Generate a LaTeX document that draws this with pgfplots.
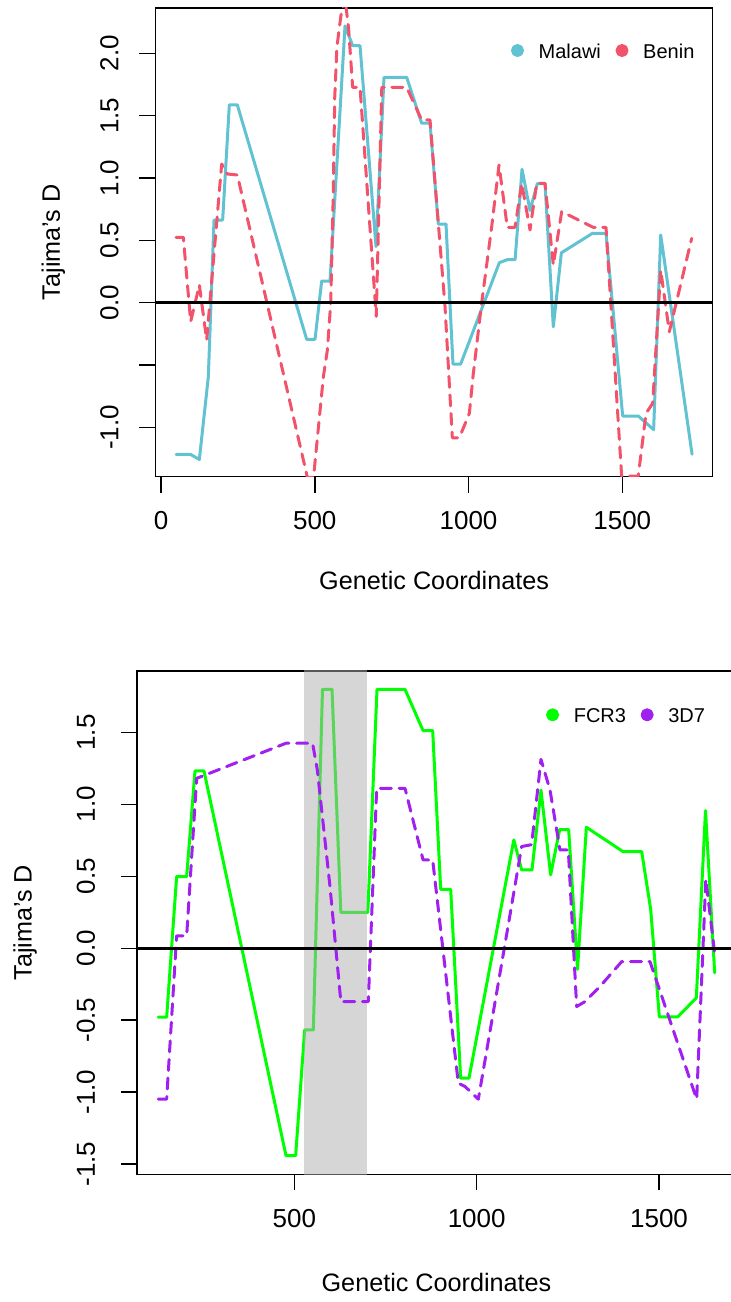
\documentclass[border=0pt]{standalone}
\usepackage{fontspec}
\setmainfont{Liberation Sans}
\usepackage{pgfplots}
\pgfplotsset{compat=1.18}
\definecolor{malawi}{RGB}{97,194,210}
\definecolor{benin}{RGB}{242,83,107}
\definecolor{fcr}{RGB}{0,255,0}
\definecolor{tdseven}{RGB}{160,32,240}
\definecolor{shade}{RGB}{174,174,174}
\pgfplotsset{
  rstyle/.style={
    scale only axis,
    axis line style={line width=0.75pt},
    every tick/.style={black, line width=0.75pt},
    major tick length=8pt,
    tick align=outside,
    xtick pos=left, ytick pos=left,
    clip=true,
    /pgf/number format/assume math mode=true,
    tick label style={font=\fontsize{13}{15}\selectfont},
    label style={font=\fontsize{12.6}{15}\selectfont},
    legend columns=2,
    legend style={draw=none, fill=none, inner sep=0pt, outer sep=0pt,
      font=\fontsize{10}{12}\selectfont, nodes={inner sep=0pt},
      /tikz/every odd column/.append style={column sep=7.35pt},
      /tikz/every even column/.append style={column sep=7.3pt}},
  },
  rline/.style={line width=1.5pt, line join=round, line cap=round},
  rdash/.style={line width=1.5pt, line join=round, line cap=round, dash pattern=on 5.5pt off 3.8pt},
}
\begin{document}
\begin{tikzpicture}
\begin{axis}[rstyle,
  at={(77.75pt,412.65pt)}, anchor=south west,
  width=278.6pt, height=234.35pt,
  xmin=-17.9, xmax=1794.1, ymin=-1.395, ymax=2.363,
  xtick={0,500,1000,1500}, xticklabels={0,500,1000,1500},
  ytick={-1,-0.5,0,0.5,1,1.5,2}, yticklabels={-1.0,{},0.0,0.5,1.0,1.5,2.0},
  xticklabel style={anchor=center, yshift=-14pt},
  yticklabel style={anchor=center, xshift=-15pt, rotate=90},
  xlabel={Genetic Coordinates}, ylabel={Tajima's D},
  xlabel style={at={(axis description cs:0.5,-0.2204)}, anchor=center},
  ylabel style={at={(axis description cs:-0.1834,0.5)}, anchor=center},
  legend style={at={(axis description cs:0.638,0.905)}, anchor=west},
  legend image code/.code={\fill[#1, solid] (2.5pt,0.1em) circle (2.5pt);},
]
\addplot[malawi, rline] coordinates {
(48.8,-1.217)(96.5,-1.217)(124.7,-1.257)(153.9,-0.594)(172.4,0.663)(200.5,0.663)
(222.2,1.586)(248.2,1.586)(473.7,-0.294)(500.8,-0.294)(522.5,0.174)(549.6,0.174)
(598.4,2.219)(623.3,2.061)(647.2,2.061)(699.2,0.45)(725.2,1.807)(799,1.807)
(847.7,1.439)(874.8,1.439)(901.8,0.631)(926.8,0.631)(949.5,-0.492)(974.5,-0.492)
(1100.3,0.321)(1126.3,0.345)(1151.5,0.345)(1174,1.07)(1200,0.74)(1223.9,0.955)
(1248.8,0.955)(1275.8,-0.193)(1302,0.40)(1403,0.556)(1447.2,0.556)(1501.4,-0.909)
(1552.3,-0.909)(1602,-1.018)(1625,0.543)(1727,-1.215)
};
\addlegendentry{Malawi}
\addplot[benin, rdash] coordinates {
(48.8,0.524)(72.6,0.524)(96.5,-0.152)(124.7,0.142)(148.5,-0.299)(197.3,1.112)
(215.7,1.032)(248.2,1.024)(476,-1.40)(496,-1.40)(528,-0.594)(541,-0.38)(552,0.0)
(560,0.85)(565,1.65)(572,2.05)(585,2.3)(598,2.45)(610,2.2)(623.3,1.727)(647.2,1.727)
(700,-0.11)(718,1.727)(799,1.727)(847.7,1.465)(874.8,1.465)(923.6,-0.03)
(947.4,-1.083)(970.2,-1.083)(1002.7,-0.887)(1015.7,-0.567)(1042.9,0.0)(1075.4,0.61)
(1099.2,1.104)(1126.2,0.604)(1151.2,0.604)(1173,0.957)(1200,0.583)(1221.7,0.957)
(1248.8,0.957)(1275.8,0.302)(1303,0.73)(1406,0.604)(1447.2,0.604)(1498,-1.39)
(1552,-1.39)(1577.2,-0.887)(1598.9,-0.807)(1625,0.262)(1653,-0.233)(1725.8,0.516)
};
\addlegendentry{Benin}
\addplot[black, line width=1.5pt, forget plot] coordinates {(-17.9,0)(1794.1,0)};
\end{axis}

\begin{axis}[rstyle,
  at={(68.5pt,63.85pt)}, anchor=south west,
  width=299.5pt, height=251.65pt,
  xmin=68.6, xmax=1711, ymin=-1.571, ymax=1.927,
  xtick={500,1000,1500}, xticklabels={500,1000,1500},
  ytick={-1.5,-1,-0.5,0,0.5,1,1.5}, yticklabels={-1.5,-1.0,-0.5,0.0,0.5,1.0,1.5},
  xticklabel style={anchor=center, yshift=-14pt},
  yticklabel style={anchor=center, xshift=-17.5pt, rotate=90},
  xlabel={Genetic Coordinates}, ylabel={Tajima's D},
  xlabel style={at={(axis description cs:0.5,-0.214)}, anchor=center},
  ylabel style={at={(axis description cs:-0.187,0.5)}, anchor=center},
  legend style={at={(axis description cs:0.683,0.909)}, anchor=west},
  legend image code/.code={\fill[#1, solid] (2.5pt,0.1em) circle (2.5pt);},
]
\addplot[fcr, rline] coordinates {
(127,-0.479)(149.9,-0.479)(177.3,0.498)(204.8,0.498)(227.6,1.232)(252.3,1.232)
(477.1,-1.441)(503.6,-1.441)(528.3,-0.568)(552.1,-0.568)(577.2,1.8)(603.3,1.8)
(627.5,0.249)(701.5,0.249)(726.7,1.8)(803.4,1.8)(852.8,1.513)(879.3,1.513)
(901.3,0.41)(928.7,0.41)(956.1,-0.903)(978.9,-0.903)(1101.8,0.753)(1123.4,0.544)
(1151.6,0.544)(1176.3,1.098)(1202.8,0.51)(1227.5,0.825)(1252.2,0.825)(1276.5,-0.146)
(1300.7,0.841)(1401.2,0.672)(1452.4,0.672)(1477,0.272)(1500.8,-0.477)(1551.1,-0.477)
(1602.2,-0.345)(1627.4,0.957)(1652.5,-0.171)
};
\addlegendentry{FCR3}
\addplot[draw=none, fill=shade, fill opacity=0.5, forget plot] coordinates {
(527,-1.7)(699,-1.7)(699,2.1)(527,2.1)} \closedcycle;
\addplot[tdseven, rdash] coordinates {
(127,-1.049)(149.9,-1.049)(177.3,0.086)(204.8,0.086)(232.2,1.181)(477.1,1.425)
(550,1.425)(563,1.24)(597.8,0.428)(627.5,-0.371)(702.8,-0.371)(725.8,1.112)
(803.4,1.112)(853,0.614)(879.3,0.614)(949.6,-0.938)(968,-0.961)(1004.5,-1.049)
(1075.7,0.0)(1123.3,0.707)(1150.6,0.72)(1176.3,1.313)(1201,1.1)(1228.4,0.683)
(1251.2,0.683)(1274.1,-0.405)(1296.9,-0.371)(1338,-0.266)(1397.5,-0.093)
(1475.2,-0.093)(1603.2,-1.049)(1628.3,0.48)(1652.5,-0.035)
};
\addlegendentry{3D7}
\addplot[black, line width=1.5pt, forget plot] coordinates {(68.6,0)(1711,0)};
\end{axis}
\pgfresetboundingbox
\useasboundingbox (0,0) rectangle (365.5pt,651pt);
\end{tikzpicture}
\end{document}
